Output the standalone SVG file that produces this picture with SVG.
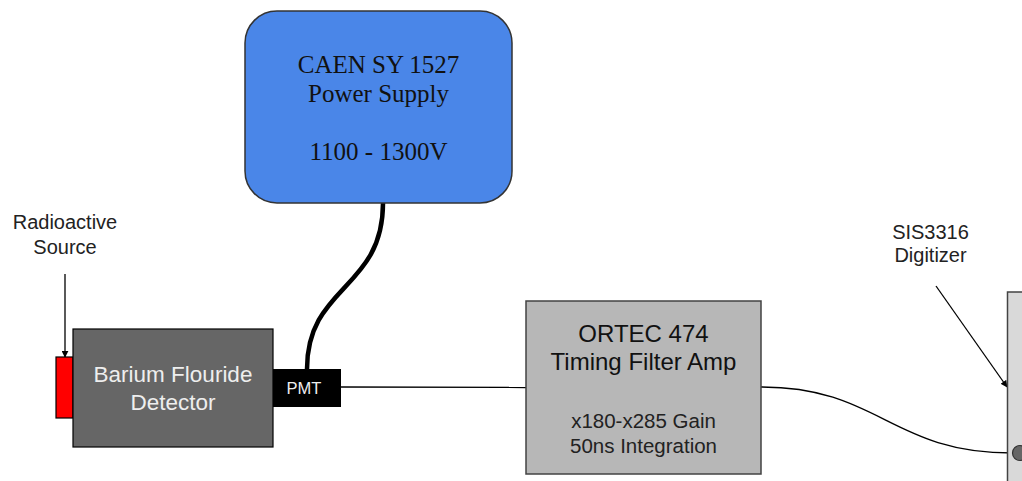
<svg xmlns="http://www.w3.org/2000/svg" width="1022" height="481" viewBox="0 0 1022 481">
  <style>
    .sans { font-family: "Liberation Sans", Arial, sans-serif; }
    .serif { font-family: "Liberation Serif", "DejaVu Serif", serif; }
    .wire { fill: none; stroke: #000; stroke-width: 1.3; }
    .box { stroke: #333; stroke-width: 1.5; }
  </style>
  <defs>
    <marker id="arr" viewBox="0 0 10 10" refX="9" refY="5" markerWidth="7" markerHeight="7" orient="auto" markerUnits="userSpaceOnUse">
      <path d="M0,0 L10,5 L0,10 z" fill="#000"/>
    </marker>
  </defs>
  <rect width="1022" height="481" fill="#fff"/>

  <g id="connectors">
    <path d="M383,203 C383,290 307,285 307,369" fill="none" stroke="#000" stroke-width="4.5"/>
    <path class="wire" d="M341,387 L526,387.5"/>
    <path class="wire" d="M761,387 C880,387 890,453 1013,453"/>
    <path class="wire" d="M65,274 L65,357" marker-end="url(#arr)"/>
    <path class="wire" d="M936,286 L1007,387" marker-end="url(#arr)"/>
  </g>

  <g id="power-supply">
    <rect x="245" y="11" width="267" height="192" rx="32" ry="32" fill="#4a86e8" class="box"/>
    <text class="serif" font-size="25" fill="#111" text-anchor="middle" x="378.5" y="72.5">CAEN SY 1527</text>
    <text class="serif" font-size="25" fill="#111" text-anchor="middle" x="378.5" y="101.5">Power Supply</text>
    <text class="serif" font-size="25" fill="#111" text-anchor="middle" x="378.5" y="160">1100 - 1300V</text>
  </g>

  <g id="source-label">
    <text class="sans" font-size="20" fill="#222" text-anchor="middle" x="65" y="229">Radioactive</text>
    <text class="sans" font-size="20" fill="#222" text-anchor="middle" x="65" y="254">Source</text>
  </g>

  <g id="source">
    <rect x="56" y="357" width="17" height="61" fill="#ff0000" stroke="#000" stroke-width="1.2"/>
  </g>

  <g id="detector">
    <rect x="73" y="329" width="200" height="118" fill="#666666" stroke="#000" stroke-width="1.2"/>
    <text class="sans" font-size="22.5" fill="#eeeeee" text-anchor="middle" x="173" y="382">Barium Flouride</text>
    <text class="sans" font-size="22.5" fill="#eeeeee" text-anchor="middle" x="173" y="410">Detector</text>
  </g>

  <g id="pmt">
    <rect x="273" y="369" width="68" height="38" fill="#000"/>
    <text class="sans" font-size="16.5" fill="#eeeeee" text-anchor="middle" x="304" y="393.5">PMT</text>
  </g>

  <g id="ortec">
    <rect x="526" y="301" width="235" height="173" fill="#b7b7b7" stroke="#434343" stroke-width="1.5"/>
    <text class="sans" font-size="24" fill="#111" text-anchor="middle" x="643.5" y="342">ORTEC 474</text>
    <text class="sans" font-size="24" fill="#111" text-anchor="middle" x="643.5" y="370">Timing Filter Amp</text>
    <text class="sans" font-size="20.5" fill="#222" text-anchor="middle" x="643.5" y="428">x180-x285 Gain</text>
    <text class="sans" font-size="20.5" fill="#222" text-anchor="middle" x="643.5" y="453">50ns Integration</text>
  </g>

  <g id="digitizer-label">
    <text class="sans" font-size="20" fill="#222" text-anchor="middle" x="930.5" y="239">SIS3316</text>
    <text class="sans" font-size="20" fill="#222" text-anchor="middle" x="930.5" y="262">Digitizer</text>
  </g>

  <g id="digitizer">
    <rect x="1007.5" y="292" width="20" height="200" fill="#d9d9d9" stroke="#434343" stroke-width="1.5"/>
    <circle cx="1020" cy="453" r="7.5" fill="#666666" stroke="#333" stroke-width="1.2"/>
  </g>
</svg>
